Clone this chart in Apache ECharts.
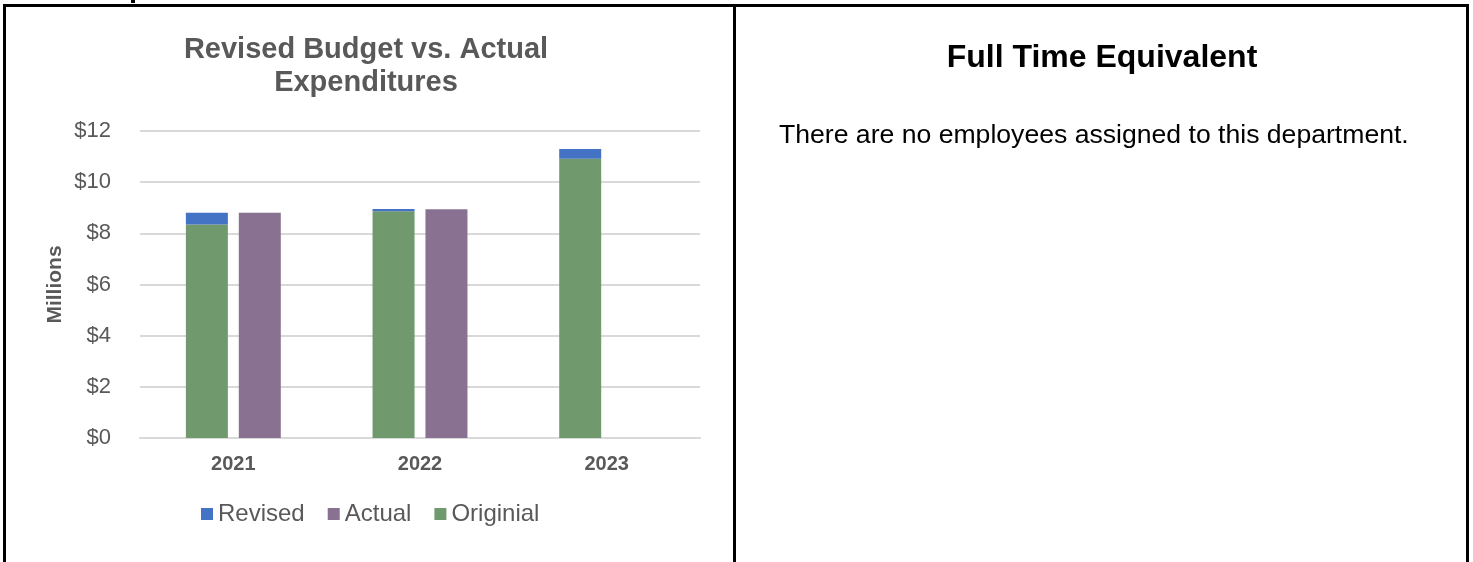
<!DOCTYPE html>
<html>
<head>
<meta charset="utf-8">
<script src="https://cdn.jsdelivr.net/npm/echarts@6/dist/echarts.min.js"></script>
<style>
  html, body { margin: 0; padding: 0; background: #fff; }
  #main { width: 1473px; height: 562px; }
</style>
</head>
<body>
<div id="main"></div>
<script>
var years = ['2021', '2022', '2023'];
var revised = [8.80, 8.95, 11.30];
var actual = [8.80, 8.94, null];
var original = [8.35, 8.86, 10.92];
var yTicks = ['$0', '$2', '$4', '$6', '$8', '$10', '$12'];

var font = 'Liberation Sans, Arial, sans-serif';
var grey = '#595959';

// revised sits on top of original, so only the difference is stacked
var revisedPart = revised.map(function (v, i) { return +(v - original[i]).toFixed(2); });

var chart = echarts.init(document.getElementById('main'));

chart.setOption({
  animation: false,
  title: {
    text: 'Revised Budget vs. Actual\nExpenditures',
    left: 366,
    top: 33,
    textAlign: 'center',
    padding: 0,
    textStyle: { fontFamily: font, fontSize: 29, fontWeight: 'bold', color: grey, lineHeight: 33 }
  },
  legend: {
    data: ['Revised', 'Actual', 'Originial'],
    left: 201,
    top: 502,
    padding: 0,
    itemWidth: 12,
    itemHeight: 12,
    itemGap: 23,
    icon: 'rect',
    textStyle: { fontFamily: font, fontSize: 24, color: grey }
  },
  grid: { left: 140, right: 773, top: 131, bottom: 124 },
  xAxis: {
    type: 'category',
    data: years,
    axisTick: { show: false },
    axisLine: { lineStyle: { color: '#d9d9d9', width: 2 } },
    axisLabel: { margin: 16, fontFamily: font, fontSize: 20, fontWeight: 'bold', color: grey }
  },
  yAxis: {
    type: 'value',
    min: 0,
    max: 12,
    interval: 2,
    name: 'Millions',
    nameLocation: 'middle',
    nameGap: 74,
    nameTextStyle: { fontFamily: font, fontSize: 21, fontWeight: 'bold', color: grey },
    axisLine: { show: false },
    axisTick: { show: false },
    splitLine: { lineStyle: { color: '#d9d9d9', width: 2 } },
    axisLabel: {
      margin: 29,
      fontFamily: font,
      fontSize: 22,
      color: grey,
      formatter: function (v) { return yTicks[v / 2]; }
    }
  },
  series: [
    {
      name: 'Originial', type: 'bar', stack: 'budget', data: original,
      barWidth: 42, barGap: '26%',
      itemStyle: { color: '#70996e' }
    },
    {
      name: 'Revised', type: 'bar', stack: 'budget', data: revisedPart,
      barWidth: 42,
      itemStyle: { color: '#4472c4' }
    },
    {
      name: 'Actual', type: 'bar', data: actual,
      barWidth: 42, barGap: '26%',
      itemStyle: { color: '#897291' }
    }
  ],
  graphic: [
    // table borders
    { type: 'rect', shape: { x: 3, y: 4, width: 1466, height: 3 }, style: { fill: '#000' } },
    { type: 'rect', shape: { x: 3, y: 4, width: 3, height: 560 }, style: { fill: '#000' } },
    { type: 'rect', shape: { x: 733, y: 4, width: 3, height: 560 }, style: { fill: '#000' } },
    { type: 'rect', shape: { x: 1466, y: 4, width: 3, height: 560 }, style: { fill: '#000' } },
    { type: 'rect', shape: { x: 131, y: 0, width: 4, height: 3 }, style: { fill: '#000' } },
    {
      type: 'text', x: 1102, y: 58,
      style: {
        text: 'Full Time Equivalent', fontFamily: font, fontSize: 32, fontWeight: 'bold',
        fill: '#000', align: 'center', verticalAlign: 'middle'
      }
    },
    {
      type: 'text', x: 779, y: 136,
      style: {
        text: 'There are no employees assigned to this department.', fontFamily: font, fontSize: 26.6,
        fill: '#000', align: 'left', verticalAlign: 'middle'
      }
    }
  ]
});
</script>
</body>
</html>
